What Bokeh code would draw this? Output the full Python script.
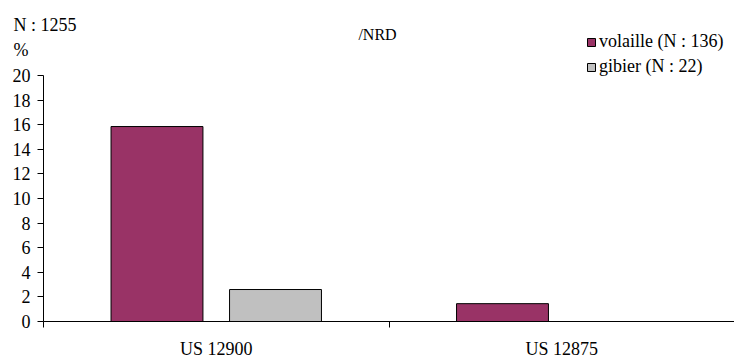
from bokeh.plotting import figure
from bokeh.models import (ColumnDataSource, FixedTicker, Legend, LegendItem,
                          Label, Range1d)
from bokeh.embed import file_html
from bokeh.resources import INLINE

# ---- data ----
categories = ["US 12900", "US 12875"]
volaille = [15.85, 1.45]
gibier = [2.6, 0.0]
series_names = ["volaille (N : 136)", "gibier (N : 22)"]
series_colors = ["#993366", "#C0C0C0"]
y_ticks = [0, 2, 4, 6, 8, 10, 12, 14, 16, 18, 20]
y_max = 20
top_left_texts = ["N : 1255", "%"]
title_text = "/NRD"

FONT = "Liberation Serif"
W, H = 734, 358
# pixel layout of the plotting area (from top-left of canvas)
AX_LEFT, AX_RIGHT = 43, 734
AX_ZERO, AX_TOP = 321, 75

n = len(categories)
ux = n / (AX_RIGHT - AX_LEFT)          # data units per px (x)
uy = y_max / (AX_ZERO - AX_TOP)        # data units per px (y)

centers = [i + 0.5 for i in range(n)]
offset = 0.1715
bar_w = 0.266

src_v = ColumnDataSource(dict(x=[c - offset for c in centers], top=volaille))
src_g = ColumnDataSource(dict(x=[c + offset for c in centers], top=gibier))

p = figure(width=W, height=H, output_backend="svg", toolbar_location=None,
           x_range=Range1d(-AX_LEFT * ux, n + (W - AX_RIGHT) * ux),
           y_range=Range1d(-(H - AX_ZERO) * uy, AX_ZERO * uy),
           min_border=0)
p.outline_line_color = None
p.xgrid.visible = False
p.ygrid.visible = False
p.background_fill_color = "white"
p.border_fill_color = "white"

rv = p.vbar(x="x", top="top", width=bar_w, bottom=0, source=src_v,
            fill_color=series_colors[0], line_color="black", line_width=1)
rg = p.vbar(x="x", top="top", width=bar_w, bottom=0, source=src_g,
            fill_color=series_colors[1], line_color="black", line_width=1)

# y axis
ya = p.yaxis[0]
ya.fixed_location = 0
ya.bounds = (0, y_max)
ya.ticker = FixedTicker(ticks=y_ticks)
ya.major_tick_out = 6
ya.major_tick_in = 0
ya.minor_tick_line_color = None
ya.axis_line_color = "black"
ya.major_tick_line_color = "black"
ya.major_label_text_font = FONT
ya.major_label_text_font_size = "18px"
ya.major_label_text_color = "black"
ya.major_label_standoff = 7

# x axis
xa = p.xaxis[0]
xa.fixed_location = 0
xa.bounds = (0, n)
xa.ticker = FixedTicker(ticks=centers, minor_ticks=list(range(n + 1)))
xa.major_label_overrides = {c: lab for c, lab in zip(centers, categories)}
xa.major_tick_line_color = None
xa.major_tick_out = 0
xa.major_tick_in = 0
xa.minor_tick_line_color = "black"
xa.minor_tick_out = 6
xa.minor_tick_in = 0
xa.axis_line_color = "black"
xa.major_label_text_font = FONT
xa.major_label_text_font_size = "18px"
xa.major_label_text_color = "black"
xa.major_label_standoff = 11

# texts (screen units, origin bottom-left of canvas)
for txt, yy in zip(top_left_texts, [H - 24, H - 49]):
    p.add_layout(Label(x=13, y=yy, x_units="screen", y_units="screen", text=txt,
                       text_font=FONT, text_font_size="18px", text_color="black",
                       text_align="left", text_baseline="middle"))
p.add_layout(Label(x=377, y=H - 34, x_units="screen", y_units="screen", text=title_text,
                   text_font=FONT, text_font_size="16px", text_color="black",
                   text_align="center", text_baseline="middle"))

legend = Legend(items=[LegendItem(label=series_names[0], renderers=[rv]),
                       LegendItem(label=series_names[1], renderers=[rg])],
                location=(586, H - 77), orientation="vertical",
                glyph_width=10, glyph_height=10, label_standoff=3,
                label_height=21, spacing=4, padding=0, margin=0,
                border_line_color=None, background_fill_alpha=0,
                label_text_font=FONT, label_text_font_size="18px",
                label_text_color="black")
p.add_layout(legend, "center")

open("out.html", "w").write(file_html(p, INLINE))
